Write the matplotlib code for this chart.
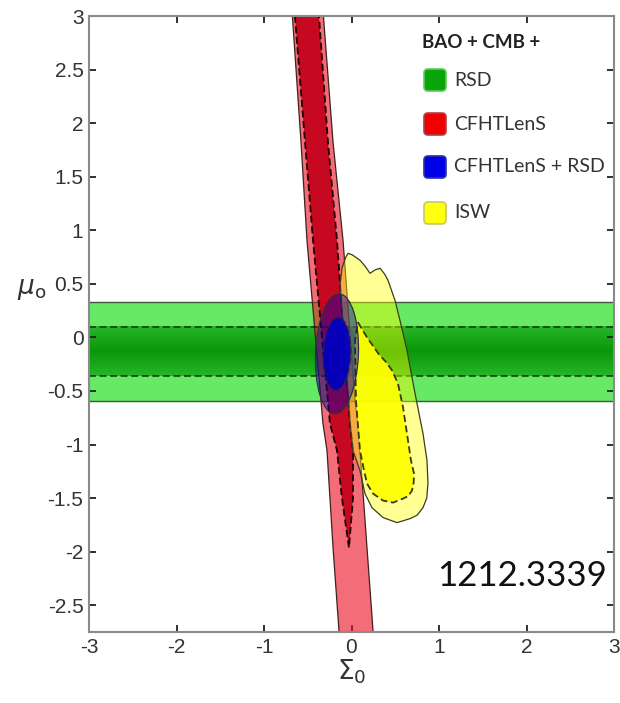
import matplotlib
matplotlib.use("Agg")
import numpy as np
import matplotlib.pyplot as plt
from matplotlib.patches import Ellipse, FancyBboxPatch
from matplotlib.transforms import IdentityTransform
from matplotlib.colors import LinearSegmentedColormap

plt.rcParams['lines.scale_dashes'] = False
plt.rcParams['axes.unicode_minus'] = False
plt.rcParams['mathtext.fontset'] = 'dejavusans'

# ---------------- data ----------------
x_ticks = [-3, -2, -1, 0, 1, 2, 3]
x_tick_labels = ['-3', '-2', '-1', '0', '1', '2', '3']
y_ticks = [-2.5, -2, -1.5, -1, -0.5, 0, 0.5, 1, 1.5, 2, 2.5, 3]
y_tick_labels = ['-2.5', '-2', '-1.5', '-1', '-0.5', '0', '0.5', '1', '1.5', '2', '2.5', '3']

# RSD: horizontal bands in mu_0
rsd_95 = [-0.598, 0.33]
rsd_68 = [-0.364, 0.096]

# CFHTLenS: band boundaries (mu_0 levels, Sigma_0 left / right)
cfht95_mu = [3.10, 2.99, 1.822, 0.907, -0.589, -0.804, -1.056, -1.963, -2.738, -2.80]
cfht95_left = [-0.683, -0.675, -0.577, -0.509, -0.349, -0.326, -0.280, -0.211, -0.143, -0.137]
cfht95_right = [-0.330, -0.320, -0.211, -0.097, 0.040, 0.074, 0.097, 0.177, 0.246, 0.252]
cfht68_mu = [3.10, 2.99, 1.822, 0.907, -0.804, -1.056, -1.50, -1.963]
cfht68_left = [-0.654, -0.646, -0.531, -0.440, -0.246, -0.166, -0.109, -0.029]
cfht68_right = [-0.379, -0.371, -0.269, -0.166, -0.017, 0.017, 0.017, -0.029]

# CFHTLenS + RSD: ellipse (centre, full widths, tilt)
comb_center = (-0.166, -0.154)
comb95_size = (0.49, 1.12)
comb68_size = (0.31, 0.68)
comb_tilt = -3

# ISW: contour outlines
isw95_sigma = [-0.131, -0.109, -0.070, -0.040, 0.010, 0.097, 0.160, 0.211, 0.270, 0.326,
               0.380, 0.417, 0.497, 0.554, 0.634, 0.726, 0.817, 0.863, 0.874, 0.860,
               0.817, 0.750, 0.669, 0.520, 0.360, 0.234, 0.154, 0.097, 0.017, -0.017, -0.074]
isw95_mu = [0.486, 0.645, 0.740, 0.785, 0.770, 0.720, 0.660, 0.598, 0.630, 0.645,
            0.590, 0.533, 0.346, 0.159, -0.121, -0.523, -0.897, -1.150, -1.364, -1.500,
            -1.589, -1.660, -1.692, -1.729, -1.682, -1.589, -1.458, -1.243, -1.056, -0.804, -0.121]
isw68_sigma = [0.074, 0.177, 0.314, 0.400, 0.463, 0.531, 0.589, 0.634, 0.680, 0.714, 0.710,
               0.691, 0.650, 0.589, 0.474, 0.360, 0.246, 0.177, 0.143, 0.097, 0.051, 0.040]
isw68_mu = [0.140, 0.0, -0.159, -0.235, -0.308, -0.430, -0.654, -0.897, -1.150, -1.271, -1.360,
            -1.430, -1.480, -1.505, -1.542, -1.523, -1.458, -1.364, -1.243, -1.056, -0.589, -0.028]

legend_title = 'BAO + CMB +'
legend_labels = ['RSD', 'CFHTLenS', 'CFHTLenS + RSD', 'ISW']
legend_colors = ['#0aa50a', '#f00000', '#0000e8', '#ffff10']
legend_edges = ['#5fc95f', '#b04040', '#3030a0', '#c8c860']
arxiv_id = '1212.3339'

# ---------------- figure ----------------
W, H = 620, 703
fig = plt.figure(figsize=(W / 100, H / 100), dpi=100)
ax = fig.add_axes([89 / W, 1 - 632 / H, (614 - 89) / W, (632 - 16) / H])

dash = (0, (5, 2.6))

# RSD
ax.axhspan(rsd_95[0], rsd_95[1], color='#66ea66', lw=0, zorder=1)
green_cmap = LinearSegmentedColormap.from_list('g', ['#26b626', '#0a970a', '#26b626'])
ax.imshow(np.linspace(0, 1, 64).reshape(-1, 1), cmap=green_cmap, aspect='auto',
          extent=[-3, 3, rsd_68[0], rsd_68[1]], zorder=1.1, interpolation='bilinear')
ax.set_xlim(-3, 3)
ax.set_ylim(-2.75, 3)
for v in rsd_95:
    ax.axhline(v, color='#3a5a3a', lw=1.0, zorder=1.2)

# CFHTLenS
ax.fill(cfht95_left + cfht95_right[::-1], cfht95_mu + cfht95_mu[::-1],
        facecolor=(0.92, 0.08, 0.14), alpha=0.62, edgecolor='none', zorder=2)
ax.fill(cfht95_left + cfht95_right[::-1], cfht95_mu + cfht95_mu[::-1],
        facecolor='none', edgecolor='#402020', lw=0.9, zorder=2.05)
ax.fill(cfht68_left + cfht68_right[::-1], cfht68_mu + cfht68_mu[::-1],
        facecolor='#c4001a', alpha=0.92, edgecolor='none', zorder=2.1)
ax.fill(cfht68_left + cfht68_right[::-1], cfht68_mu + cfht68_mu[::-1],
        facecolor='none', edgecolor='#1a0000', lw=1.3, linestyle=dash, zorder=2.2)

for v in rsd_68:
    ax.axhline(v, color='#0a2a0a', lw=1.2, linestyle=dash, alpha=0.85, zorder=2.3)

# ISW
ax.fill(isw95_sigma, isw95_mu, facecolor=(1.0, 1.0, 0.0), alpha=0.42,
        edgecolor='none', zorder=3)
ax.fill(isw95_sigma, isw95_mu, facecolor='none', edgecolor='#3c3c20', lw=0.9, zorder=3.05)
ax.fill(isw68_sigma, isw68_mu, facecolor='#ffff00', alpha=0.93, edgecolor='none', zorder=3.1)
ax.fill(isw68_sigma, isw68_mu, facecolor='none', edgecolor='#3a3a10', lw=1.3,
        linestyle=dash, zorder=3.2)

# CFHTLenS + RSD
ax.add_patch(Ellipse(comb_center, comb95_size[0], comb95_size[1], angle=comb_tilt,
                     facecolor=(0.05, 0.0, 0.7), alpha=0.45, edgecolor='none', zorder=4))
ax.add_patch(Ellipse(comb_center, comb95_size[0], comb95_size[1], angle=comb_tilt,
                     facecolor='none', edgecolor='#303040', lw=0.9, zorder=4.05))
ax.add_patch(Ellipse(comb_center, comb68_size[0], comb68_size[1], angle=comb_tilt,
                     facecolor='#0000c0', alpha=0.93, edgecolor='none', zorder=4.1))
ax.add_patch(Ellipse(comb_center, comb68_size[0], comb68_size[1], angle=comb_tilt,
                     facecolor='none', edgecolor='#202050', lw=1.0, linestyle=dash, zorder=4.2))

# axes styling
ax.set_xticks(x_ticks)
ax.set_xticklabels(x_tick_labels)
ax.set_yticks(y_ticks)
ax.set_yticklabels(y_tick_labels)
ax.tick_params(direction='in', length=5, width=1.3, color='#202020',
               top=True, right=True, labelsize=15, labelcolor='#333333', pad=4)
for lab in ax.get_xticklabels() + ax.get_yticklabels():
    lab.set_fontfamily(['Liberation Sans', 'DejaVu Sans'])
for s in ax.spines.values():
    s.set_color('#8a8a8a')
    s.set_linewidth(1.5)
    s.set_zorder(10)

ax.set_xlabel(r'$\Sigma_0$', fontsize=19, color='#333333', labelpad=1)
ax.set_ylabel(r'$\mu_{\rm o}$', fontsize=19, color='#333333', rotation=0)
ax.yaxis.set_label_coords(-0.11, 0.535)

# legend (manual, pixel positions)
tr = IdentityTransform()
fig.text(422, H - 42, legend_title, transform=tr, fontsize=13.5, fontweight='bold',
         family=['Lato', 'DejaVu Sans'], color='#222222', ha='left', va='center')
y_centres = [80, 124, 167, 213]
for lab, col, ec, yc in zip(legend_labels, legend_colors, legend_edges, y_centres):
    fig.patches.append(FancyBboxPatch((424, H - yc - 11), 22, 22,
                                      boxstyle='round,pad=0,rounding_size=4',
                                      facecolor=col, edgecolor=ec, lw=1.2,
                                      transform=tr, figure=fig))
    fig.text(454, H - yc, lab, transform=tr, fontsize=14, family=['Lato', 'DejaVu Sans'],
             color='#333333', ha='left', va='center')

fig.text(437, H - 586, arxiv_id, transform=tr, fontsize=25,
         family=['Lato', 'DejaVu Sans'], color='#111111', ha='left', va='baseline')

fig.savefig('out.png', dpi=100)
